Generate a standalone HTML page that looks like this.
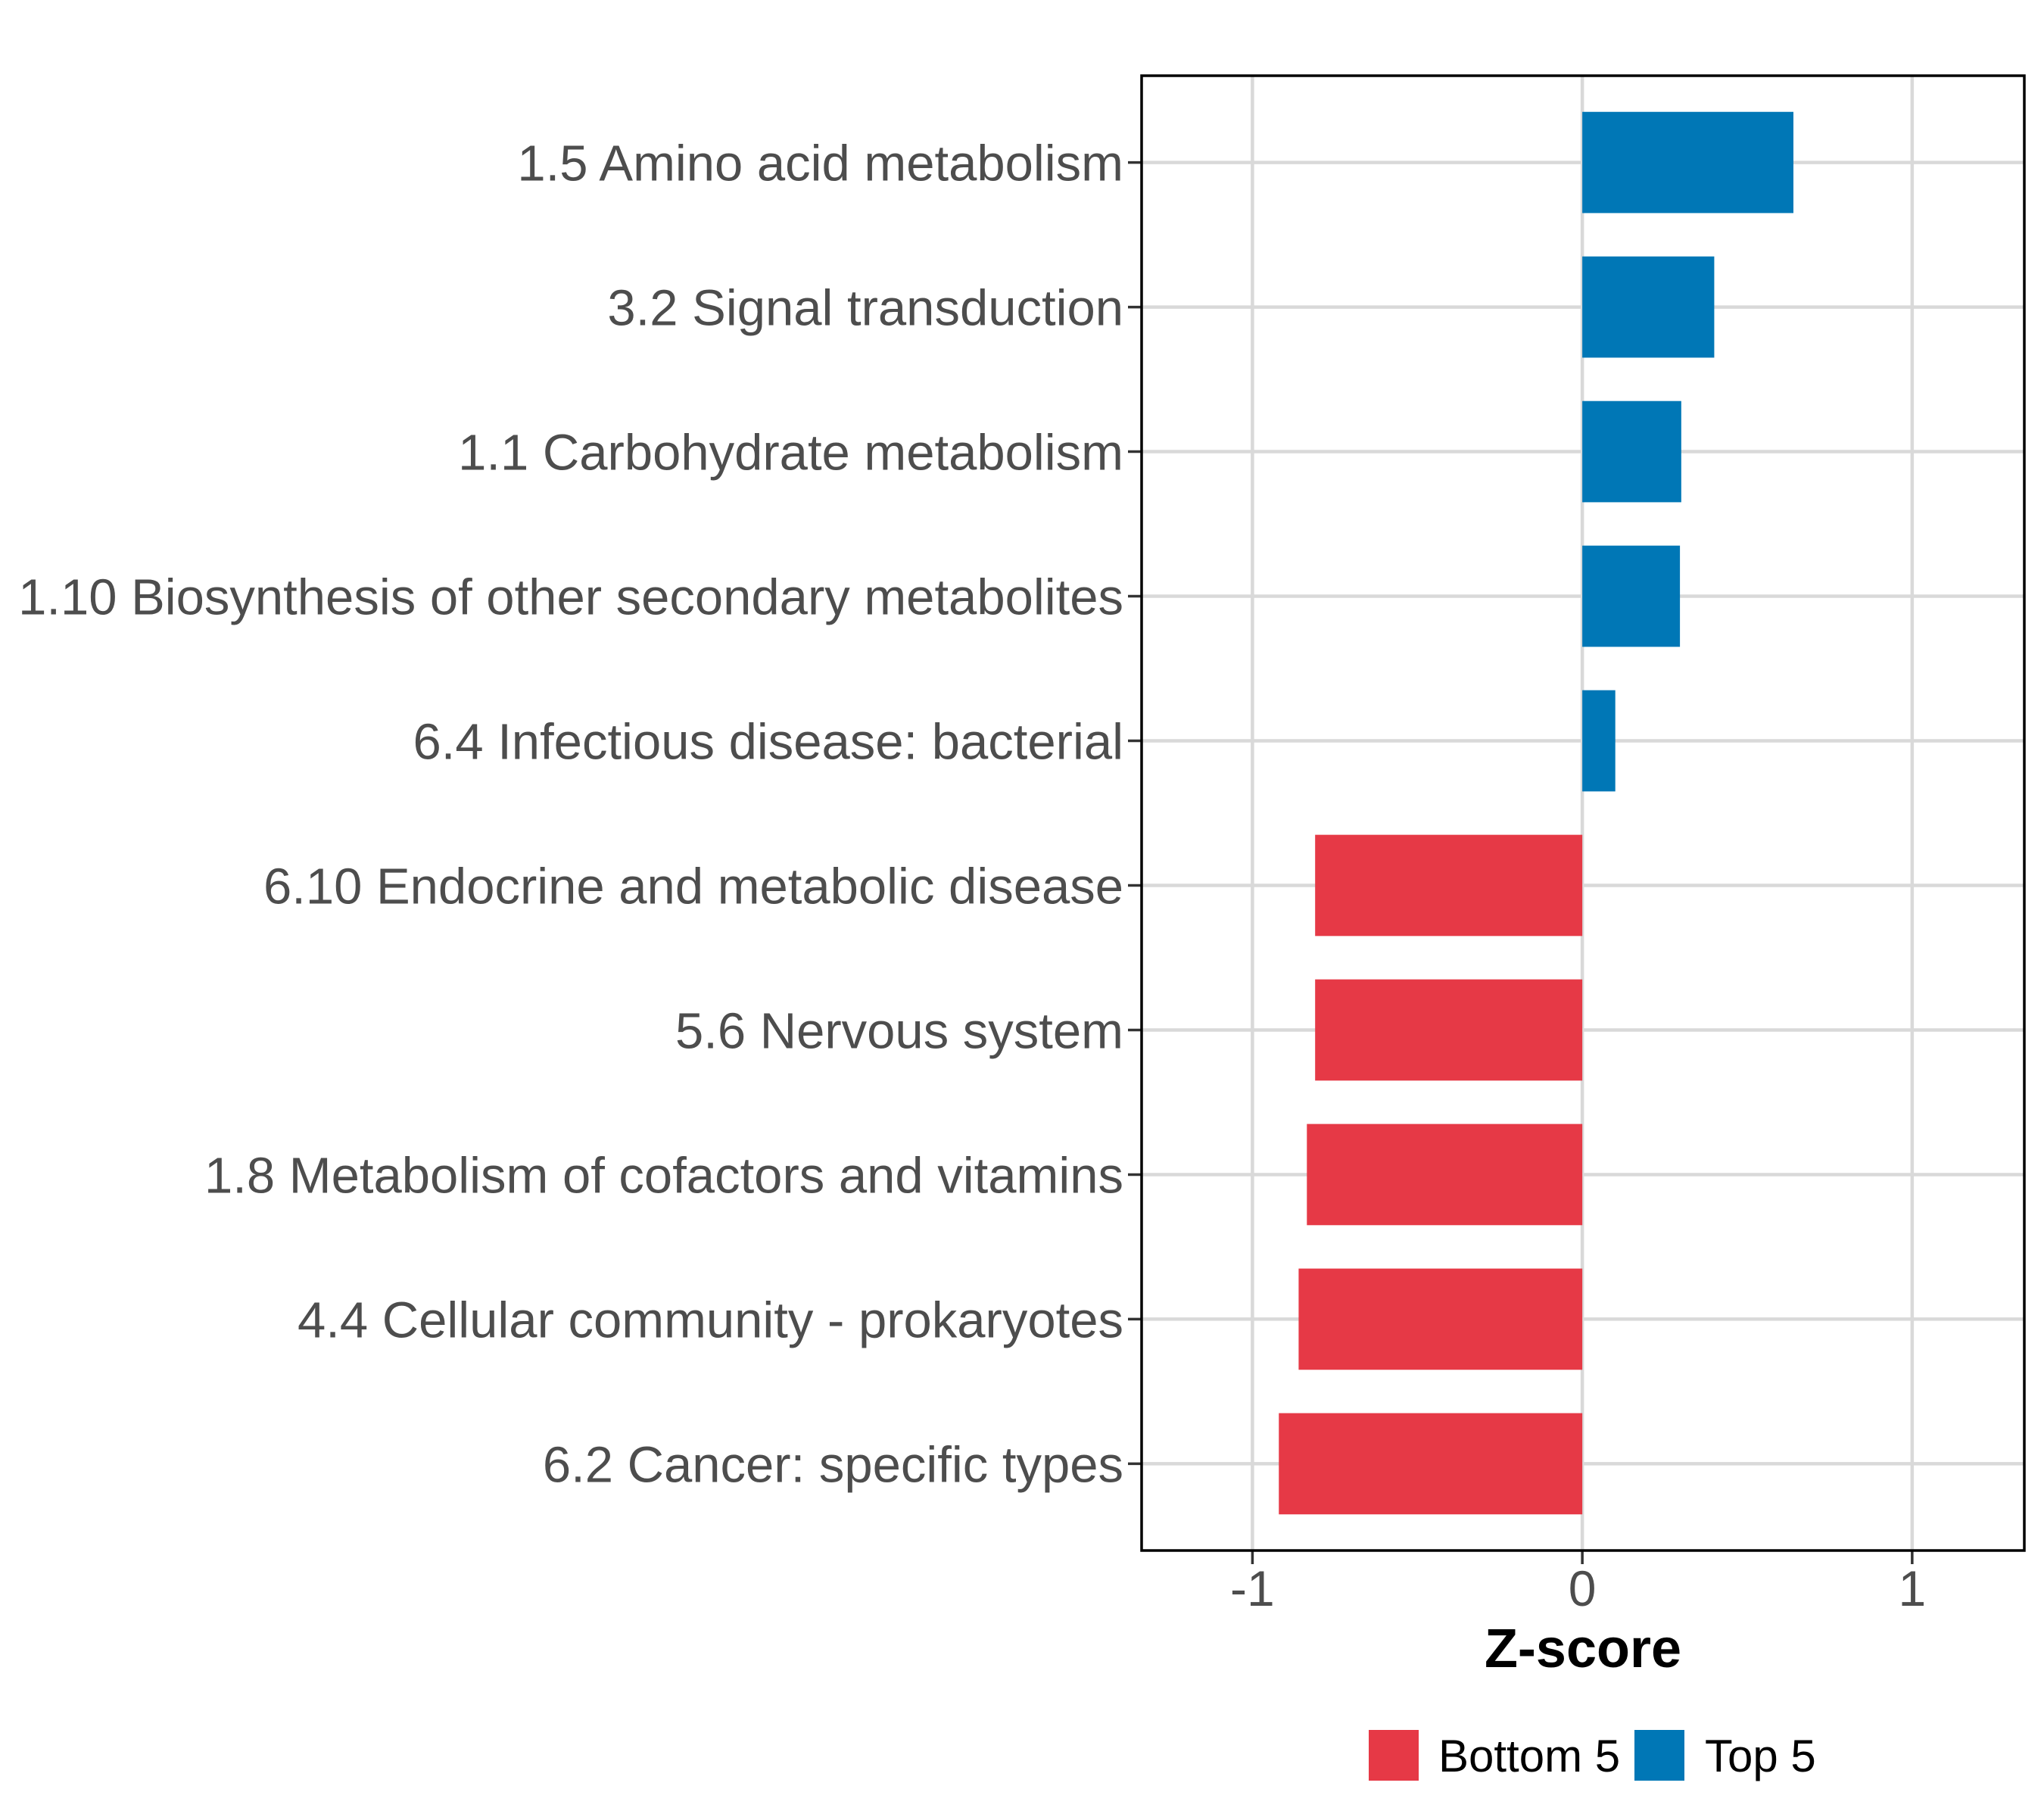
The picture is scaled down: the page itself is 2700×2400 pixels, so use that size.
<!DOCTYPE html>
<html><head><meta charset="utf-8"><style>
html,body{margin:0;padding:0;background:#fff;}
svg{display:block;font-family:"Liberation Sans",Arial,sans-serif;}
</style></head><body>
<svg id="chart" width="2700" height="2400" viewBox="0 0 2700 2400" xmlns="http://www.w3.org/2000/svg">
<rect width="2700" height="2400" fill="#fff"/>
<g id="grid"></g>
<g id="bars"></g>
<g id="yaxis"></g>
<g id="xaxis"></g>
<rect x="1508" y="100" width="1166" height="1948" fill="none" stroke="#000" stroke-width="3.5"/>
<text x="2091" y="2202" font-size="72" font-weight="bold" text-anchor="middle" fill="#000">Z-score</text>
<g>
<rect x="1808" y="2285" width="66" height="67" fill="#E63946"/>
<text x="1900" y="2340" font-size="60" fill="#000">Bottom 5</text>
<rect x="2159" y="2285" width="66" height="67" fill="#0077B6"/>
<text x="2252" y="2340" font-size="60" fill="#000">Top 5</text>
</g>
</svg>
<script>
const categories = ["1.5 Amino acid metabolism","3.2 Signal transduction","1.1 Carbohydrate metabolism","1.10 Biosynthesis of other secondary metabolites","6.4 Infectious disease: bacterial","6.10 Endocrine and metabolic disease","5.6 Nervous system","1.8 Metabolism of cofactors and vitamins","4.4 Cellular community - prokaryotes","6.2 Cancer: specific types"];
const zscores = [0.64, 0.40, 0.30, 0.296, 0.10, -0.81, -0.81, -0.835, -0.86, -0.92];
const groups = ["Top 5","Top 5","Top 5","Top 5","Top 5","Bottom 5","Bottom 5","Bottom 5","Bottom 5","Bottom 5"];
const xTicks = [-1, 0, 1];
const xTickLabels = ["-1", "0", "1"];

const NS = "http://www.w3.org/2000/svg";
const L = 1508, R = 2674, T = 100, B = 2048;
const xmin = -1.336, xmax = 1.34;
function xs(v){ return L + (v - xmin) / (xmax - xmin) * (R - L); }
const n = categories.length;
const step = (B - T) / (n - 1 + 1.2);
function yc(i){ return T + step * (0.6 + i); }
const colors = {"Top 5":"#0077B6","Bottom 5":"#E63946"};
function mk(tag, attrs, parent){ const e = document.createElementNS(NS, tag); for (const k in attrs) e.setAttribute(k, attrs[k]); parent.appendChild(e); return e; }
const grid = document.getElementById('grid'), bars = document.getElementById('bars'), ya = document.getElementById('yaxis'), xa = document.getElementById('xaxis');
xTicks.forEach((t, i) => {
  const g = mk('line', {x1: xs(t), x2: xs(t), y1: T, y2: B, stroke: '#d9d9d9', 'stroke-width': 4.5}, grid);
  
  
  const tk = mk('line', {x1: xs(t), x2: xs(t), y1: B, y2: B + 18, stroke: '#333', 'stroke-width': 3.5}, xa);
  
  
  const tl = mk('text', {x: xs(t), y: B + 73, 'font-size': 66, 'text-anchor': 'middle', fill: '#4d4d4d'}, xa);
  tl.textContent = xTickLabels[i];
  
  
});
categories.forEach((c, i) => {
  const y = yc(i);
  const g = mk('line', {x1: L, x2: R, y1: y, y2: y, stroke: '#d9d9d9', 'stroke-width': 4.5}, grid);
  
  
  const v = zscores[i];
  const x0 = xs(Math.min(0, v)), x1 = xs(Math.max(0, v));
  const bh = step * 0.7;
  const b = mk('rect', {x: x0, y: y - bh / 2, width: x1 - x0, height: bh, fill: colors[groups[i]]}, bars);
  
  
  const tk = mk('line', {x1: L - 18, x2: L, y1: y, y2: y, stroke: '#333', 'stroke-width': 3.5}, ya);
  
  
  const tl = mk('text', {x: L - 24, y: y + 24, 'font-size': 67, 'text-anchor': 'end', fill: '#4d4d4d'}, ya);
  tl.textContent = c;
  
  
});
</script>
</body></html>
